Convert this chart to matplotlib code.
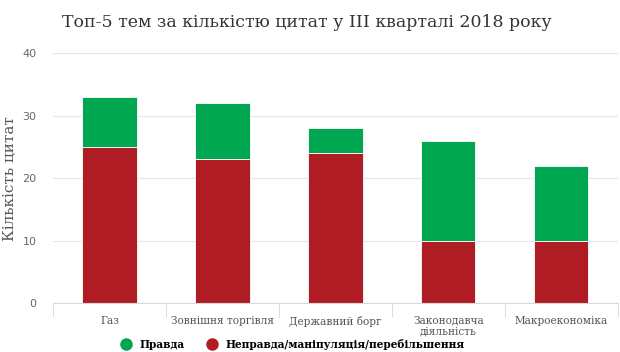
import matplotlib
matplotlib.use('Agg')
import matplotlib.pyplot as plt
import numpy as np
from matplotlib.lines import Line2D

categories = ['Газ', 'Зовнішня торгівля', 'Державний борг',
              'Законодавча\nдіяльність', 'Макроекономіка']
false_vals = [25, 23, 24, 10, 10]
true_vals = [8, 9, 4, 16, 12]

green = '#00a650'
red = '#b01c24'

fig = plt.figure(figsize=(6.2, 3.52), dpi=100)
ax = fig.add_axes([0.0855, 0.139, 0.911, 0.71])

x = np.arange(len(categories))
ax.bar(x, false_vals, width=0.48, color=red, edgecolor='white', linewidth=0.6)
ax.bar(x, true_vals, width=0.48, bottom=false_vals, color=green,
       edgecolor='white', linewidth=0.6)

ax.set_xlim(-0.5, len(categories) - 0.5)
ax.set_ylim(0, 40)
ax.set_yticks([0, 10, 20, 30, 40])
ax.yaxis.grid(True, color='#e6e6e6', linewidth=0.8)
ax.set_axisbelow(True)
for s in ['top', 'right', 'left']:
    ax.spines[s].set_visible(False)
ax.spines['bottom'].set_color('#d8d8d8')

ax.tick_params(axis='y', length=0, colors='#666666', labelsize=8, pad=12)
ax.set_xticks(x)
ax.set_xticklabels(categories, family='DejaVu Serif', fontsize=7.6,
                   color='#555555', linespacing=1.05)
ax.tick_params(axis='x', length=0, pad=9)
ax.set_xticks(np.arange(len(categories) + 1) - 0.5, minor=True)
ax.tick_params(axis='x', which='minor', length=10, color='#d8d8d8')

ax.set_ylabel('Кількість цитат', family='DejaVu Serif', fontsize=11,
              color='#555555', labelpad=4)

fig.text(0.495, 0.935, 'Топ-5 тем за кількістю цитат у III кварталі 2018 року',
         ha='center', va='center', family='DejaVu Serif', fontsize=12.5,
         color='#333333')

handles = [Line2D([], [], marker='o', linestyle='', markersize=8,
                  markerfacecolor=green, markeredgecolor=green, label='Правда'),
           Line2D([], [], marker='o', linestyle='', markersize=8,
                  markerfacecolor=red, markeredgecolor=red,
                  label='Неправда/маніпуляція/перебільшення')]
fig.legend(handles=handles, loc='center', bbox_to_anchor=(0.468, 0.022), ncol=2,
           frameon=False, handletextpad=0.3, columnspacing=1.6,
           borderpad=0.1, prop={'family': 'DejaVu Serif', 'weight': 'bold', 'size': 7.6})

fig.savefig('out.png', dpi=100, facecolor='white')
